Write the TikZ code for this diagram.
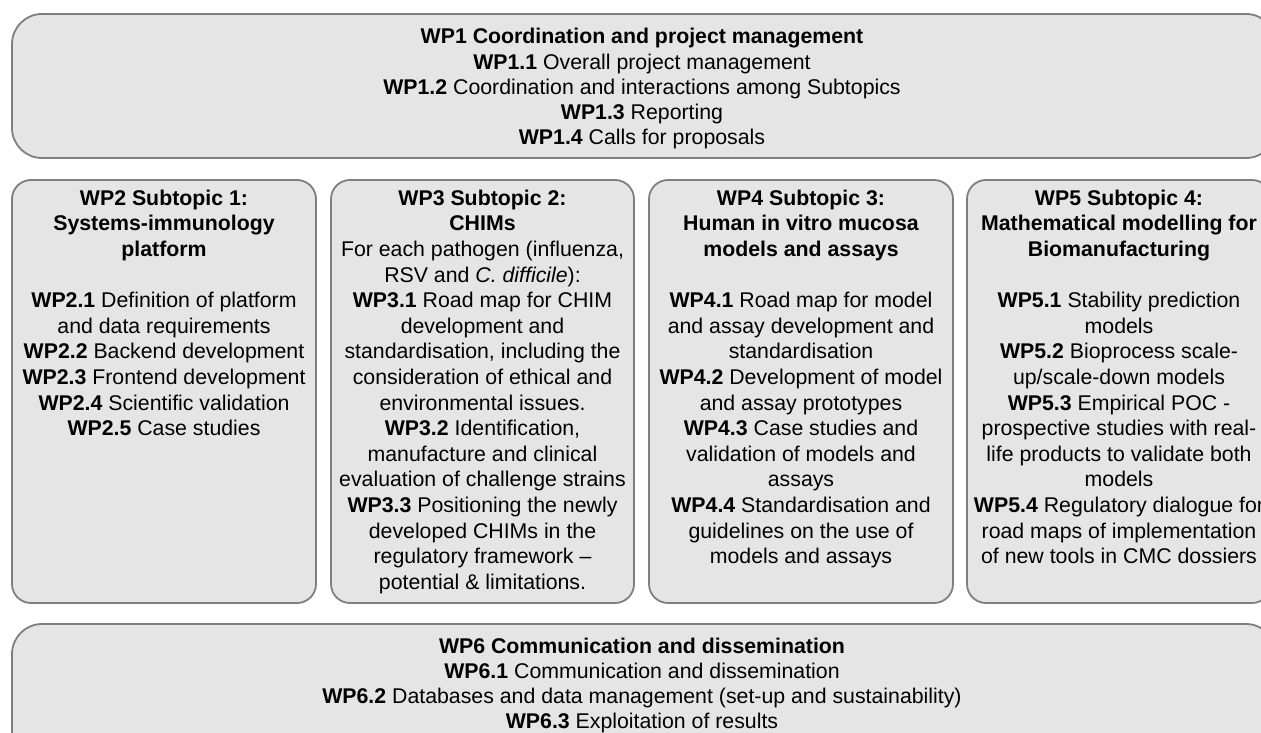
\documentclass[tikz,border=0pt]{standalone}
\usepackage{fontspec}
\setmainfont{Liberation Sans}
\definecolor{boxfill}{HTML}{E5E5E5}
\definecolor{boxline}{HTML}{7F7F7F}
\tikzset{
  widebox/.style={draw=boxline, fill=boxfill, line width=1.8pt, rounded corners=30pt},
  subbox/.style={draw=boxline, fill=boxfill, line width=1.8pt, rounded corners=19pt},
  midtext/.style={align=center, inner sep=0pt, anchor=north, font=\fontsize{21.3}{25.6}\selectfont},
  widetext/.style={align=center, inner sep=0pt, anchor=north, font=\fontsize{21.3}{25.2}\selectfont},
}
\begin{document}
\begin{tikzpicture}[x=1pt,y=-1pt]
\useasboundingbox (0,0) rectangle (1261,733);
\clip (0,0) rectangle (1261,733);
% boxes
\draw[widebox] (12,14) rectangle (1276,158);
\draw[subbox] (12,180) rectangle (316,603);
\draw[subbox] (331,180) rectangle (634,603);
\draw[subbox] (649,180) rectangle (953,603);
\draw[subbox] (967,180) rectangle (1271,603);
\draw[widebox] (12,624) rectangle (1276,768);
% texts
\node[widetext] (wp1) at (642,28.2) {\textbf{WP1 Coordination and project management}\\
\textbf{WP1.1} Overall project management\\
\textbf{WP1.2} Coordination and interactions among Subtopics\\
\textbf{WP1.3} Reporting\\
\textbf{WP1.4} Calls for proposals};
\node[midtext] (wp2) at (164,189.7) {\textbf{WP2 Subtopic 1:}\\
\textbf{Systems-immunology}\\
\textbf{platform}\\[25.6pt]
\textbf{WP2.1} Definition of platform\\
and data requirements\\
\textbf{WP2.2} Backend development\\
\textbf{WP2.3} Frontend development\\
\textbf{WP2.4} Scientific validation\\
\textbf{WP2.5} Case studies};
\node[midtext] (wp3) at (482.5,189.7) {\textbf{WP3 Subtopic 2:}\\
\textbf{CHIMs}\\
For each pathogen (influenza,\\
RSV and \textit{C. difficile}):\\
\textbf{WP3.1} Road map for CHIM\\
development and\\
standardisation, including the\\
consideration of ethical and\\
environmental issues.\\
\textbf{WP3.2} Identification,\\
manufacture and clinical\\
evaluation of challenge strains\\
\textbf{WP3.3} Positioning the newly\\
developed CHIMs in the\\
regulatory framework –\\
potential \& limitations.};
\node[midtext] (wp4) at (801,189.7) {\textbf{WP4 Subtopic 3:}\\
\textbf{Human in vitro mucosa}\\
\textbf{models and assays}\\[25.6pt]
\textbf{WP4.1} Road map for model\\
and assay development and\\
standardisation\\
\textbf{WP4.2} Development of model\\
and assay prototypes\\
\textbf{WP4.3} Case studies and\\
validation of models and\\
assays\\
\textbf{WP4.4} Standardisation and\\
guidelines on the use of\\
models and assays};
\node[midtext] (wp5) at (1119,189.7) {\textbf{WP5 Subtopic 4:}\\
\textbf{Mathematical modelling for}\\
\textbf{Biomanufacturing}\\[25.6pt]
\textbf{WP5.1} Stability prediction\\
models\\
\textbf{WP5.2} Bioprocess scale-\\
up/scale-down models\\
\textbf{WP5.3} Empirical POC -\\
prospective studies with real-\\
life products to validate both\\
models\\
\textbf{WP5.4} Regulatory dialogue for\\
road maps of implementation\\
of new tools in CMC dossiers};
\node[widetext] (wp6) at (642,637.7) {\textbf{WP6 Communication and dissemination}\\
\textbf{WP6.1} Communication and dissemination\\
\textbf{WP6.2} Databases and data management (set-up and sustainability)\\
\textbf{WP6.3} Exploitation of results};
\end{tikzpicture}
\end{document}
